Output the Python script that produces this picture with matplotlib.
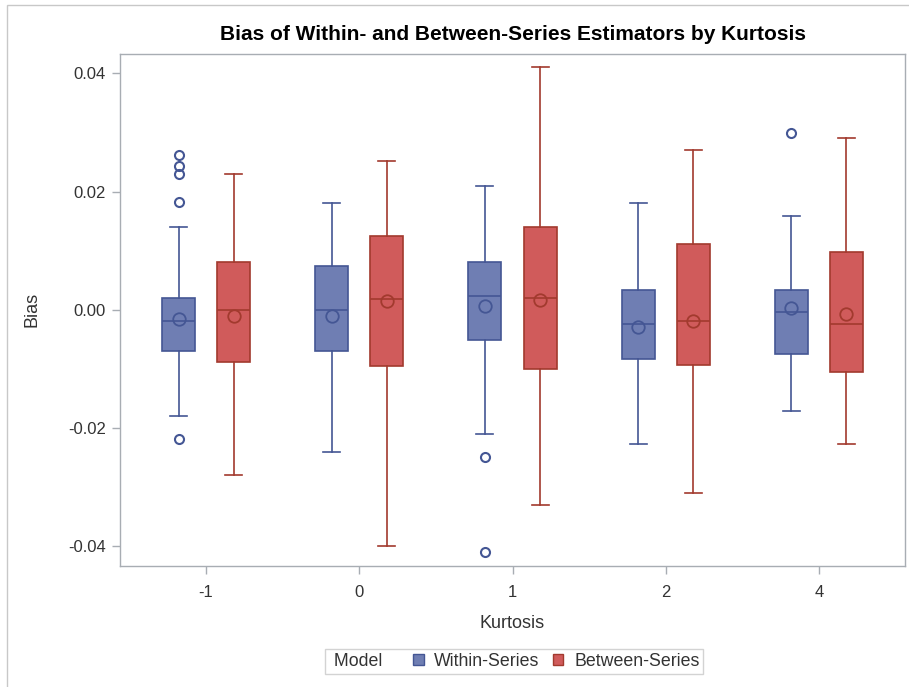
import matplotlib
matplotlib.use("Agg")
import matplotlib.pyplot as plt
from matplotlib.patches import Patch, Rectangle
from matplotlib.offsetbox import DrawingArea

plt.rcParams['font.family'] = ['Liberation Sans', 'DejaVu Sans']

categories = ["-1", "0", "1", "2", "4"]
series = ["Within-Series", "Between-Series"]

within_q1 = [-0.0070, -0.0069, -0.0051, -0.0084, -0.0075]
within_med = [-0.0019, 0.0000, 0.0024, -0.0024, -0.0004]
within_q3 = [0.0020, 0.0074, 0.0080, 0.0034, 0.0034]
within_lo = [-0.0180, -0.0241, -0.0210, -0.0228, -0.0172]
within_hi = [0.0140, 0.0180, 0.0210, 0.0180, 0.0159]
within_mean = [-0.0016, -0.0010, 0.0007, -0.0030, 0.0003]
within_fliers = [[0.0262, 0.0243, 0.0230, 0.0182, -0.0219], [], [-0.0250, -0.0410], [], [0.0299]]

between_q1 = [-0.0089, -0.0095, -0.0101, -0.0094, -0.0106]
between_med = [0.0000, 0.0019, 0.0020, -0.0019, -0.0024]
between_q3 = [0.0080, 0.0125, 0.0140, 0.0111, 0.0098]
between_lo = [-0.0279, -0.0400, -0.0330, -0.0310, -0.0228]
between_hi = [0.0229, 0.0251, 0.0411, 0.0270, 0.0290]
between_mean = [-0.0010, 0.0015, 0.0016, -0.0019, -0.0007]
between_fliers = [[], [], [], [], []]

fill_colors = ["#6F7EB3", "#D05B5B"]
edge_colors = ["#445694", "#A23A2E"]

W, H = 909, 687
fig = plt.figure(figsize=(W / 100, H / 100), dpi=100)
ax = fig.add_axes([120 / W, 1 - 565.5 / H, (905 - 120) / W, (565.5 - 54) / H])

def stats(q1, med, q3, lo, hi, mean, fl):
    return [dict(q1=a, med=b, q3=c, whislo=d, whishi=e, mean=f, fliers=g)
            for a, b, c, d, e, f, g in zip(q1, med, q3, lo, hi, mean, fl)]

groups = [
    stats(within_q1, within_med, within_q3, within_lo, within_hi, within_mean, within_fliers),
    stats(between_q1, between_med, between_q3, between_lo, between_hi, between_mean, between_fliers),
]
offsets = [-0.18, 0.18]
base = list(range(len(categories)))
for gi, st in enumerate(groups):
    fc, ec = fill_colors[gi], edge_colors[gi]
    ax.bxp(st, positions=[b + offsets[gi] for b in base], widths=0.215,
           patch_artist=True, showmeans=True, showfliers=True, capwidths=0.11,
           boxprops=dict(facecolor=fc, edgecolor=ec, linewidth=1.2),
           medianprops=dict(color=ec, linewidth=1.2),
           whiskerprops=dict(color=ec, linewidth=1.2),
           capprops=dict(color=ec, linewidth=1.2),
           meanprops=dict(marker='o', markerfacecolor='none', markeredgecolor=ec,
                          markersize=9, markeredgewidth=1.3),
           flierprops=dict(marker='o', markerfacecolor='none', markeredgecolor=ec,
                           markersize=6.5, markeredgewidth=1.5))

ax.set_xlim(-0.562, len(categories) - 1 + 0.562)
ax.set_ylim(-0.0433, 0.0433)
ax.set_xticks(base)
ax.set_xticklabels(categories)
ax.set_yticks([-0.04, -0.02, 0.0, 0.02, 0.04])
ax.set_yticklabels(["-0.04", "-0.02", "0.00", "0.02", "0.04"])
for s in ax.spines.values():
    s.set_color("#A8ADB3")
    s.set_linewidth(1.0)
ax.tick_params(axis='both', colors="#A8ADB3", labelcolor="#333333", labelsize=12,
               length=6, width=1.0, direction='out', pad=4)
ax.tick_params(axis='x', pad=8)
ax.set_xlabel("Kurtosis", fontsize=13, color="#333333", labelpad=11)
ax.set_ylabel("Bias", fontsize=13, color="#333333", labelpad=20)
ax.set_title("Bias of Within- and Between-Series Estimators by Kurtosis",
             fontsize=15, fontweight='bold', color="#000000", pad=10)

fig.patches.append(Rectangle((7 / W, -0.1), 1.2, 1 - 5 / H + 0.1, transform=fig.transFigure,
                             fill=False, edgecolor="#C8C8C8", linewidth=1.0))

handles = [Patch(facecolor=fill_colors[i], edgecolor=edge_colors[i], linewidth=1.0) for i in range(2)]
leg = fig.legend(handles, series, title=" Model", ncol=2, loc='center',
                 bbox_to_anchor=(514 / W, 1 - 661.5 / H), fontsize=12.8, title_fontsize=12.8,
                 frameon=True, fancybox=False, edgecolor="#C8C8C8", handlelength=0.6,
                 handleheight=0.6, handletextpad=0.6, columnspacing=0.7, borderpad=0.22,
                 borderaxespad=0)
leg.get_frame().set_linewidth(1.0)
c = leg.get_children()[0]
title = c.get_children()[0]
hpack = c.get_children()[1]
c._children.remove(title)
hpack._children.insert(0, title)
hpack._children.insert(1, DrawingArea(3.5, 1))
hpack.sep = 9.4
for t in leg.get_texts():
    t.set_color("#333333")
leg.get_title().set_color("#333333")

fig.savefig("out.png", dpi=100)
